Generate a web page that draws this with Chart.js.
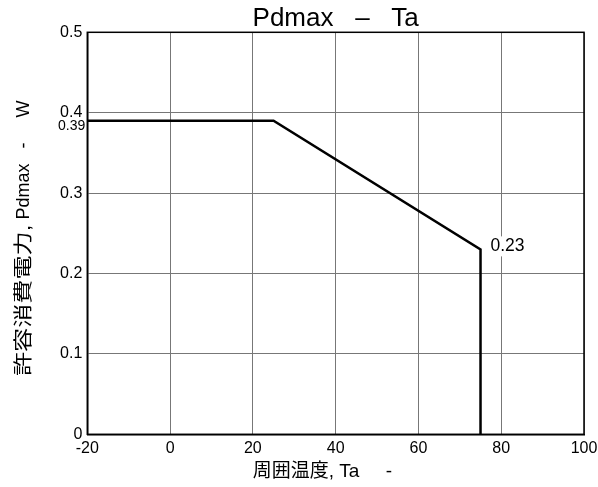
<!DOCTYPE html>
<html>
<head>
<meta charset="utf-8">
<script src="https://cdn.jsdelivr.net/npm/chart.js@4.4.1/dist/chart.umd.min.js"></script>
<style>
  html, body { margin: 0; padding: 0; background: #fff; }
  #wrap { width: 598px; height: 487px; position: relative; }
</style>
</head>
<body>
<div id="wrap"><canvas id="c"></canvas></div>
<script>
// ---- data ----
const temps = [-20, 25, 75, 75];          // Ta (°C)
const pdmax = [0.39, 0.39, 0.23, 0];      // Pdmax (W)
const xTickValues = [-20, 0, 20, 40, 60, 80, 100];
const yTickValues = [0, 0.1, 0.2, 0.3, 0.4, 0.5];
const yTickLabels = ['0', '0.1', '0.2', '0.3', '0.4', '0.5'];
const axisNoteValues = [0.39];
const axisNoteLabels = ['0.39'];
const pointNoteX = [75];
const pointNoteY = [0.23];
const pointNoteLabels = ['0.23'];
const chartTitle = 'Pdmax   \u2013   Ta';
const xTitle = '周囲温度, Ta     -     ';
const yTitleCJK = '許容消費電力,';
const yTitleLatin = ' Pdmax   -     W';

const FONT = "'Liberation Sans', 'Noto Sans CJK JP', sans-serif";

const points = temps.map((t, i) => ({ x: t, y: pdmax[i] }));

const notesPlugin = {
  id: 'notes',
  afterDatasetsDraw(chart) {
    const ctx = chart.ctx;
    const xs = chart.scales.x, ys = chart.scales.y;
    ctx.save();
    // axis side note (0.39)
    ctx.font = '14px ' + FONT;
    ctx.fillStyle = '#000';
    ctx.textAlign = 'right';
    ctx.textBaseline = 'middle';
    axisNoteValues.forEach((v, i) => {
      ctx.fillText(axisNoteLabels[i], xs.left - 2, ys.getPixelForValue(v) + 5.5);
    });
    // point note (0.23) with white backing
    ctx.font = '17.5px ' + FONT;
    ctx.textAlign = 'left';
    pointNoteLabels.forEach((lab, i) => {
      const px = xs.getPixelForValue(pointNoteX[i]) + 10;
      const py = ys.getPixelForValue(pointNoteY[i]) - 3;
      const w = ctx.measureText(lab).width;
      ctx.fillStyle = '#fff';
      ctx.fillRect(px - 2, py - 10, w + 4, 20);
      ctx.fillStyle = '#000';
      ctx.fillText(lab, px, py);
    });
    ctx.restore();
  },
  afterDraw(chart) {
    const a = chart.chartArea;
    const ctx = chart.ctx;
    ctx.save();
    ctx.strokeStyle = '#000';
    ctx.lineWidth = 1.5;
    ctx.strokeRect(a.left, a.top, a.right - a.left, a.bottom - a.top);
    ctx.restore();

    // vertical y-axis title (CJK part drawn stretched lengthwise, as in the original)
    ctx.save();
    const cx = 24.5;
    const cy = (a.top + a.bottom) / 2 + 5;
    ctx.translate(cx, cy);
    ctx.rotate(-Math.PI / 2);
    ctx.fillStyle = '#000';
    ctx.textBaseline = 'middle';
    ctx.textAlign = 'left';
    const stretch = 1.27;
    ctx.font = '19px ' + FONT;
    const wA = ctx.measureText(yTitleCJK).width * stretch;
    ctx.font = '18px ' + FONT;
    const wB = ctx.measureText(yTitleLatin).width;
    const x0 = -(wA + wB) / 2;
    ctx.save();
    ctx.translate(x0, 0);
    ctx.scale(stretch, 1);
    ctx.font = '19px ' + FONT;
    ctx.fillText(yTitleCJK, 0, 0);
    ctx.restore();
    ctx.font = '18px ' + FONT;
    ctx.fillText(yTitleLatin, x0 + wA, 0);
    ctx.restore();
  }
};

new Chart(document.getElementById('c'), {
  type: 'line',
  data: {
    datasets: [{
      data: points,
      borderColor: '#000',
      borderWidth: 2.5,
      pointRadius: 0,
      tension: 0,
      fill: false,
      clip: false
    }]
  },
  options: {
    responsive: true,
    maintainAspectRatio: false,
    animation: false,
    layout: { padding: { left: 0, right: 14, top: 0, bottom: 0 } },
    plugins: {
      legend: { display: false },
      tooltip: { enabled: false },
      title: { display: false }
    },
    scales: {
      xTop: {
        type: 'linear',
        position: 'top',
        min: -20, max: 100,
        afterFit: s => { s.height = 32.3; s.paddingLeft = 0; s.paddingRight = 0; },
        grid: { display: false, drawTicks: false },
        border: { display: false },
        ticks: { display: false },
        title: {
          display: true, text: chartTitle, color: '#000',
          font: { family: FONT, size: 26, lineHeight: 1 },
          padding: { top: 6, bottom: 0 }
        }
      },
      x: {
        type: 'linear',
        position: 'bottom',
        min: -20, max: 100,
        afterBuildTicks: s => { s.ticks = xTickValues.map(v => ({ value: v })); },
        afterFit: s => { s.height = 52.7; s.paddingRight = 0; },
        grid: { color: '#777', lineWidth: 1, drawTicks: false },
        border: { display: true, color: '#000', width: 1.5 },
        ticks: { color: '#000', padding: 5, font: { family: FONT, size: 16 }, autoSkip: false, maxRotation: 0 },
        title: {
          display: true, text: xTitle, color: '#000',
          font: { family: FONT, size: 19 },
          padding: { top: 0, bottom: 3.5 }
        }
      },
      y: {
        type: 'linear',
        min: 0, max: 0.5,
        afterBuildTicks: s => { s.ticks = yTickValues.map(v => ({ value: v })); },
        afterFit: s => { s.width = 87.3; },
        grid: { color: '#777', lineWidth: 1, drawTicks: false },
        border: { display: true, color: '#000', width: 1.5 },
        ticks: {
          color: '#000', padding: 5, font: { family: FONT, size: 16 }, autoSkip: false,
          callback: (v) => { const i = yTickValues.findIndex(t => Math.abs(t - v) < 1e-9); return i >= 0 ? yTickLabels[i] : ''; }
        },
        title: { display: false }
      }
    }
  },
  plugins: [notesPlugin]
});
</script>
</body>
</html>
